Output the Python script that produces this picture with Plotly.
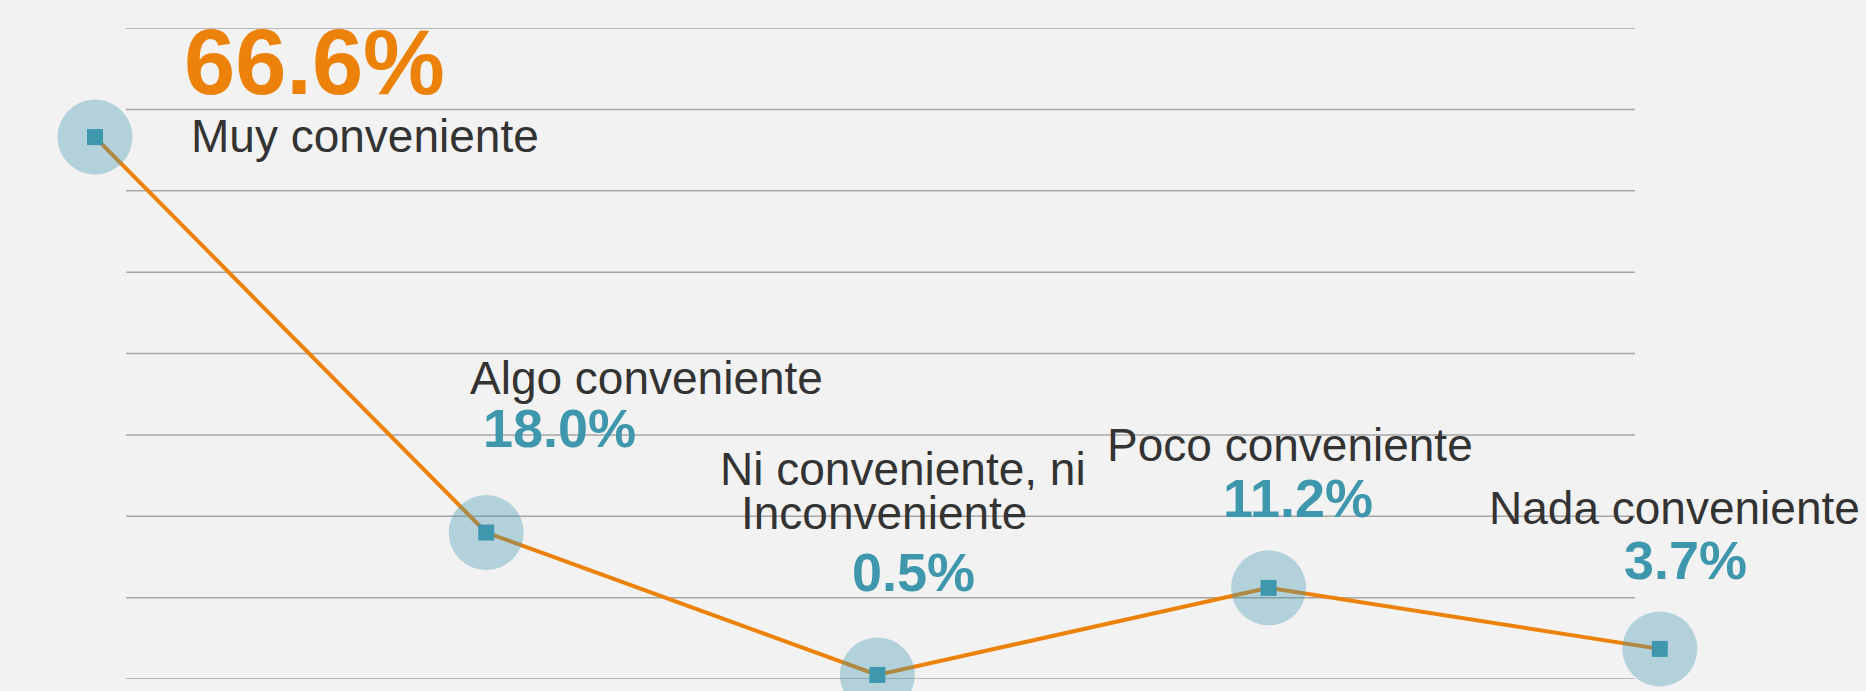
import plotly.graph_objects as go

categories = ["Muy conveniente", "Algo conveniente", "Ni conveniente, ni Inconveniente",
              "Poco conveniente", "Nada conveniente"]
values = [66.6, 18.0, 0.5, 11.2, 3.7]
value_labels = ["66.6%", "18.0%", "0.5%", "11.2%", "3.7%"]
y_ticks = [0, 10, 20, 30, 40, 50, 60, 70, 80]

ORANGE = "#ec8209"
TEAL = "#3f97ae"
DARK = "#333333"
BG = "#f2f2f2"
GRID = "#a6a6a6"
FONT = "Liberation Sans, Arial, sans-serif"

x = list(range(len(categories)))

fig = go.Figure()
fig.add_trace(go.Scatter(x=x, y=values, mode="lines",
                         line=dict(color=ORANGE, width=4), cliponaxis=False,
                         hoverinfo="skip", showlegend=False))
fig.add_trace(go.Scatter(x=x, y=values, mode="markers",
                         marker=dict(size=75, color="rgba(66,150,176,0.36)", line=dict(width=0)),
                         cliponaxis=False, hoverinfo="skip", showlegend=False))
fig.add_trace(go.Scatter(x=x, y=values, mode="markers",
                         marker=dict(size=16, symbol="square", color=TEAL, line=dict(width=0)),
                         cliponaxis=False, text=categories, showlegend=False))

# horizontal guide lines
shapes = [dict(type="line", xref="paper", yref="y", x0=126 / 1866, x1=1635 / 1866,
               y0=t, y1=t, line=dict(color=GRID, width=1.5), layer="below")
          for t in y_ticks]

# label placement (pixel offsets from each point)
name_lines = [["Muy conveniente"], ["Algo conveniente"], ["Ni conveniente, ni", "Inconveniente"],
              ["Poco conveniente"], ["Nada conveniente"]]
name_offsets = [[(94, 1.5, "left")], [(-18, 155, "left")], [(26, 206, "center"), (7, 162, "center")],
                [(21, 142.5, "center")], [(15, 140.5, "center")]]
val_offsets = [(87, 75.5, "left"), (73, 105, "center"), (36, 102.5, "center"),
               (29, 89.5, "center"), (26, 89, "center")]

annotations = []
for i in x:
    multi = len(name_lines[i]) > 1
    for line, (dx, dy, xa) in zip(name_lines[i], name_offsets[i]):
        ann = dict(x=i, y=values[i], xref="x", yref="y", text=line,
                   showarrow=False, xanchor=xa, yanchor="middle",
                   xshift=dx, yshift=dy,
                   font=dict(family=FONT, size=46, color=DARK))
        if multi:
            ann.update(height=42, valign="middle")
        annotations.append(ann)
    dx, dy, xa = val_offsets[i]
    big = i == 0
    annotations.append(dict(x=i, y=values[i], xref="x", yref="y",
                            text="<b>" + value_labels[i] + "</b>",
                            showarrow=False, xanchor=xa, yanchor="middle",
                            xshift=dx, yshift=dy,
                            font=dict(family=FONT, size=92 if big else 54,
                                      color=ORANGE if big else TEAL)))

fig.update_layout(
    width=1866, height=691,
    paper_bgcolor=BG, plot_bgcolor=BG,
    margin=dict(l=0, r=0, t=28, b=12, pad=0),
    xaxis=dict(range=[-95 / 391.2, (1866 - 95) / 391.2], visible=False,
               showgrid=False, zeroline=False),
    yaxis=dict(range=[0, 80], visible=False, showgrid=False, zeroline=False),
    annotations=annotations,
    shapes=shapes,
    showlegend=False,
)

fig.write_html("out.html", config={"displayModeBar": False},
               post_script="document.body.style.margin='0';document.body.style.background='#f2f2f2';")
